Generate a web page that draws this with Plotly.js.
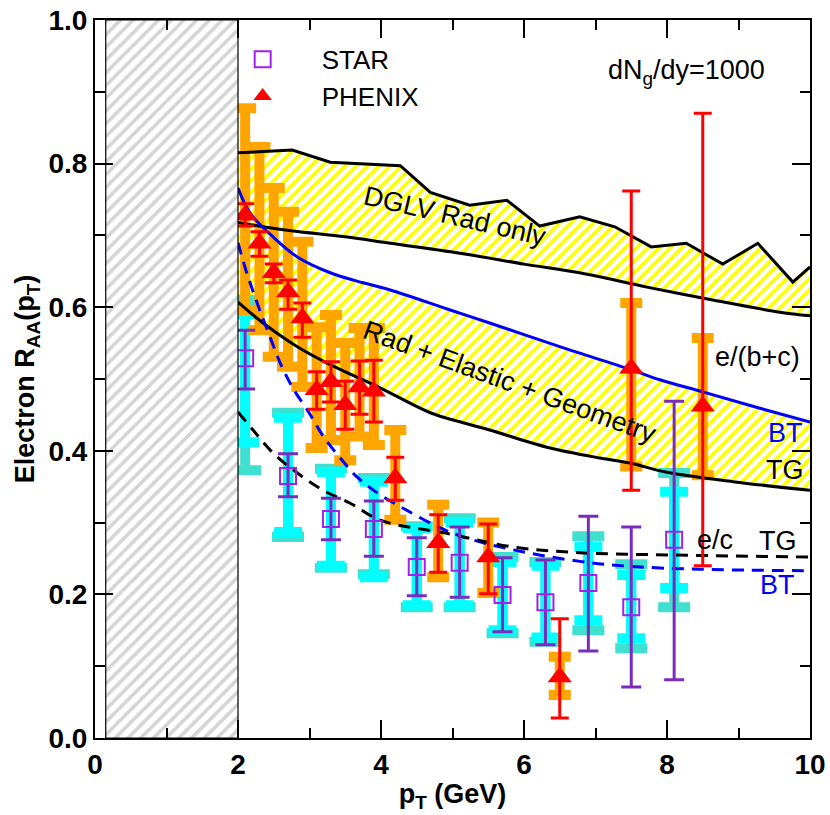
<!DOCTYPE html>
<html>
<head>
<meta charset="utf-8">
<script src="https://cdn.plot.ly/plotly-3.0.1.min.js"></script>
<style>html,body{margin:0;padding:0;background:#fff;}</style>
</head>
<body>
<div id="chart" style="width:830px;height:815px;"></div>
<script>
// ---------- DATA ----------
// STAR (open squares)
const starX = [2.1, 2.7, 3.3, 3.9, 4.5, 5.1, 5.7, 6.3, 6.9, 7.5, 8.1];
const starY = [0.529, 0.365, 0.305, 0.291, 0.238, 0.244, 0.199, 0.189, 0.216, 0.182, 0.276];
const starStatHi = [0.568, 0.396, 0.334, 0.330, 0.279, 0.294, 0.251, 0.248, 0.309, 0.294, 0.469];
const starStatLo = [0.486, 0.336, 0.276, 0.253, 0.198, 0.196, 0.148, 0.130, 0.121, 0.071, 0.081];
const starSysHi  = [0.590, 0.446, 0.370, 0.357, 0.292, 0.300, 0.245, 0.240, 0.266, 0.227, 0.343];
const starSysLo  = [0.412, 0.287, 0.240, 0.224, 0.185, 0.185, 0.150, 0.140, 0.164, 0.139, 0.209];
const starSys2Hi = [0.610, 0.453, 0.375, 0.362, 0.295, 0.306, 0.252, 0.245, 0.281, 0.242, 0.369];
const starSys2Lo = [0.373, 0.280, 0.237, 0.228, 0.182, 0.182, 0.146, 0.134, 0.150, 0.125, 0.182];

// PHENIX (filled triangles)
const phxX = [2.1, 2.3, 2.5, 2.7, 2.9, 3.1, 3.3, 3.5, 3.7, 3.9, 4.2, 4.8, 5.5, 6.5, 7.5, 8.5];
const phxY = [0.728, 0.689, 0.648, 0.621, 0.585, 0.485, 0.496, 0.464, 0.489, 0.483, 0.362, 0.272, 0.252, 0.085, 0.515, 0.462];
const phxStatHi = [0.744, 0.705, 0.660, 0.638, 0.606, 0.510, 0.524, 0.497, 0.525, 0.526, 0.391, 0.311, 0.298, 0.166, 0.762, 0.870];
const phxStatLo = [0.713, 0.671, 0.634, 0.597, 0.558, 0.458, 0.468, 0.430, 0.451, 0.440, 0.331, 0.231, 0.201, 0.028, 0.345, 0.240];
const phxSysHi  = [0.877, 0.823, 0.766, 0.733, 0.691, 0.572, 0.589, 0.550, 0.571, 0.571, 0.429, 0.325, 0.300, 0.113, 0.606, 0.557];
const phxSysLo  = [0.596, 0.568, 0.531, 0.517, 0.489, 0.404, 0.415, 0.387, 0.420, 0.408, 0.304, 0.224, 0.202, 0.060, 0.378, 0.366];

// DGLV radiative-only band
const dglvUpX = [2.0, 2.76, 3.29, 4.27, 4.69, 5.24, 5.76, 6.22, 6.78, 7.27, 7.78, 8.27, 8.78, 9.27, 9.76, 10.0];
const dglvUpY = [0.815, 0.819, 0.802, 0.797, 0.760, 0.742, 0.749, 0.713, 0.726, 0.712, 0.684, 0.689, 0.660, 0.689, 0.635, 0.656];
const dglvLoX = [2.0, 2.35, 2.77, 3.5, 4.13, 5.24, 6.0, 6.78, 7.72, 8.64, 9.58, 10.0];
const dglvLoY = [0.718, 0.712, 0.706, 0.698, 0.689, 0.673, 0.660, 0.648, 0.628, 0.610, 0.593, 0.588];

// Rad + Elastic + Geometry band, e/(b+c): BT (upper, blue) and TG (lower, black)
const btBcX = [2.0, 2.17, 2.49, 2.83, 3.29, 3.75, 4.13, 5.0, 5.52, 6.5, 6.78, 7.5, 7.9, 8.5, 9.2, 10.0];
const btBcY = [0.766, 0.731, 0.698, 0.670, 0.648, 0.634, 0.624, 0.595, 0.578, 0.545, 0.536, 0.513, 0.499, 0.482, 0.462, 0.440];
const tgBcX = [2.0, 2.35, 2.83, 3.29, 4.0, 4.69, 5.15, 5.52, 6.32, 7.06, 7.48, 8.0, 8.92, 10.0];
const tgBcY = [0.607, 0.578, 0.545, 0.520, 0.487, 0.453, 0.439, 0.429, 0.405, 0.390, 0.383, 0.370, 0.357, 0.345];

// e/c curves
const btCX = [2.0, 2.1, 2.2, 2.3, 2.45, 2.6, 2.77, 3.0, 3.2, 3.43, 3.66, 3.94, 4.31, 4.78, 5.15, 5.85, 6.78, 7.5, 8.46, 10.0];
const btCY = [0.690, 0.655, 0.625, 0.597, 0.558, 0.520, 0.487, 0.452, 0.419, 0.390, 0.364, 0.342, 0.320, 0.295, 0.280, 0.262, 0.246, 0.239, 0.235, 0.233];
const tgCX = [2.0, 2.21, 2.49, 2.83, 3.19, 3.57, 4.0, 4.92, 5.85, 6.78, 8.0, 10.0];
const tgCY = [0.454, 0.429, 0.397, 0.369, 0.345, 0.327, 0.303, 0.285, 0.266, 0.258, 0.255, 0.252];

// excluded low-pT region
const exclX0 = 0.15, exclX1 = 2.0, exclY0 = 0.0, exclY1 = 1.0;

// ---------- HELPERS ----------
const F = 'Liberation Sans, Arial, Helvetica, sans-serif';
const up = (hi, y) => hi.map((h, i) => +(h - y[i]).toFixed(4));
const dn = (lo, y) => lo.map((l, i) => +(y[i] - l).toFixed(4));
const band = (ux, uy, lx, ly) => ({
  x: ux.concat(lx.slice().reverse()),
  y: uy.concat(ly.slice().reverse())
});

const b1 = band(dglvUpX, dglvUpY, dglvLoX, dglvLoY);
const b2 = band(btBcX, btBcY, tgBcX, tgBcY);

const hatch = {shape: '/', fgcolor: '#ffff00', bgcolor: '#ffffff', size: 8, solidity: 0.45};

const traces = [
  // bands
  {x: b1.x, y: b1.y, mode: 'lines', fill: 'toself', fillcolor: '#ffffff', fillpattern: hatch,
   line: {width: 0}, hoverinfo: 'skip', showlegend: false},
  {x: b2.x, y: b2.y, mode: 'lines', fill: 'toself', fillcolor: '#ffffff', fillpattern: hatch,
   line: {width: 0}, hoverinfo: 'skip', showlegend: false},

  // STAR systematic (outer turquoise, inner cyan)
  {x: starX, y: starY, mode: 'markers', marker: {size: 1, opacity: 0}, showlegend: false, hoverinfo: 'skip',
   error_y: {type: 'data', symmetric: false, array: up(starSys2Hi, starY), arrayminus: dn(starSys2Lo, starY),
             color: '#40e0d0', thickness: 10, width: 16}},
  {x: starX, y: starY, mode: 'markers', marker: {size: 1, opacity: 0}, showlegend: false, hoverinfo: 'skip',
   error_y: {type: 'data', symmetric: false, array: up(starSysHi, starY), arrayminus: dn(starSysLo, starY),
             color: '#00ffff', thickness: 10, width: 14}},

  // PHENIX systematic (orange)
  {x: phxX, y: phxY, mode: 'markers', marker: {size: 1, opacity: 0}, showlegend: false, hoverinfo: 'skip',
   error_y: {type: 'data', symmetric: false, array: up(phxSysHi, phxY), arrayminus: dn(phxSysLo, phxY),
             color: '#ffa500', thickness: 10, width: 11}},

  // theory curves
  {x: dglvUpX, y: dglvUpY, mode: 'lines', line: {color: '#000000', width: 3}, showlegend: false, hoverinfo: 'skip'},
  {x: dglvLoX, y: dglvLoY, mode: 'lines', line: {color: '#000000', width: 3, shape: 'spline'}, showlegend: false, hoverinfo: 'skip'},
  {x: btBcX, y: btBcY, mode: 'lines', line: {color: '#0000ff', width: 3, shape: 'spline'}, showlegend: false, hoverinfo: 'skip'},
  {x: tgBcX, y: tgBcY, mode: 'lines', line: {color: '#000000', width: 3, shape: 'spline'}, showlegend: false, hoverinfo: 'skip'},
  {x: btCX, y: btCY, mode: 'lines', line: {color: '#0000ff', width: 3, dash: '12px,8px', shape: 'spline'}, showlegend: false, hoverinfo: 'skip'},
  {x: tgCX, y: tgCY, mode: 'lines', line: {color: '#000000', width: 3, dash: '12px,8px', shape: 'spline'}, showlegend: false, hoverinfo: 'skip'},

  // STAR points + stat errors
  {x: starX, y: starY, name: 'STAR', mode: 'markers',
   marker: {symbol: 'square-open', size: 16, color: '#a020f0', line: {width: 2, color: '#a020f0'}},
   error_y: {type: 'data', symmetric: false, array: up(starStatHi, starY), arrayminus: dn(starStatLo, starY),
             color: '#7b2cbf', thickness: 3, width: 10}},

  // PHENIX points + stat errors
  {x: phxX, y: phxY, name: 'PHENIX', mode: 'markers',
   marker: {symbol: 'triangle-up', size: 21, color: '#ff0000'},
   error_y: {type: 'data', symmetric: false, array: up(phxStatHi, phxY), arrayminus: dn(phxStatLo, phxY),
             color: '#ff0000', thickness: 3, width: 9}},

  // excluded region (hatched grey box, on top)
  {x: [exclX0, exclX1, exclX1, exclX0, exclX0], y: [exclY0, exclY0, exclY1, exclY1, exclY0],
   mode: 'lines', fill: 'toself', fillcolor: '#ffffff',
   fillpattern: {shape: '/', fgcolor: '#d4d4d4', bgcolor: '#ffffff', size: 9, solidity: 0.4},
   line: {color: '#000000', width: 1.2}, hoverinfo: 'skip', showlegend: false}
];

const tickFont = {family: F, size: 28, color: '#000', weight: 'bold'};
const txt = (x, y, text, opts) => Object.assign({
  x: x, y: y, xref: 'x', yref: 'y', text: text, showarrow: false,
  font: {family: F, size: 27, color: '#000'}
}, opts || {});

const layout = {
  width: 830, height: 815,
  margin: {l: 95, r: 20, t: 20, b: 77},
  paper_bgcolor: '#fff', plot_bgcolor: '#fff',
  showlegend: true,
  legend: {x: 0.152, y: 0.978, xanchor: 'left', yanchor: 'top', bgcolor: 'rgba(0,0,0,0)',
           font: {family: F, size: 26, color: '#000'}, tracegroupgap: 0, itemwidth: 108, itemsizing: 'trace'},
  xaxis: {
    range: [0, 10], dtick: 2, tick0: 0, ticks: 'inside', ticklen: 18, tickwidth: 2, tickcolor: '#000',
    minor: {dtick: 1, ticks: 'inside', ticklen: 10, tickwidth: 2, tickcolor: '#000'},
    showline: true, linewidth: 2, linecolor: '#000', mirror: 'ticks',
    showgrid: false, zeroline: false, tickfont: tickFont,
    title: {text: 'p<sub>T</sub> (GeV)', font: {family: F, size: 27, color: '#000', weight: 'bold'}, standoff: 6}
  },
  yaxis: {
    range: [0, 1], dtick: 0.2, tick0: 0, tickformat: '.1f', ticks: 'inside', ticklen: 18, tickwidth: 2, tickcolor: '#000',
    minor: {dtick: 0.1, ticks: 'inside', ticklen: 10, tickwidth: 2, tickcolor: '#000'},
    showline: true, linewidth: 2, linecolor: '#000', mirror: 'ticks',
    showgrid: false, zeroline: false, tickfont: tickFont,
    title: {text: 'Electron R<sub>AA</sub>(p<sub>T</sub>)', font: {family: F, size: 27, color: '#000', weight: 'bold'}, standoff: 6}
  },
  annotations: [
    txt(8.27, 0.927, 'dN<sub>g</sub>/dy=1000'),
    txt(5.03, 0.727, 'DGLV Rad only', {textangle: 13}),
    txt(5.80, 0.496, 'Rad + Elastic + Geometry', {textangle: 20}),
    txt(9.27, 0.531, 'e/(b+c)'),
    txt(9.66, 0.425, 'BT', {font: {family: F, size: 27, color: '#0000ff'}}),
    txt(9.65, 0.373, 'TG'),
    txt(8.67, 0.276, 'e/c'),
    txt(9.55, 0.274, 'TG'),
    txt(9.55, 0.213, 'BT', {font: {family: F, size: 27, color: '#0000ff'}})
  ]
};

Plotly.newPlot('chart', traces, layout, {displayModeBar: false, staticPlot: true});
</script>
</body>
</html>
